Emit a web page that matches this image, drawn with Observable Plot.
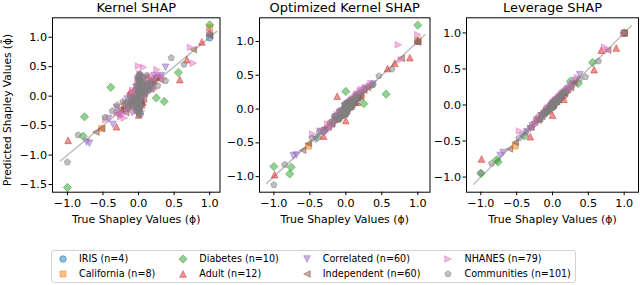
<!DOCTYPE html>
<html>
<head>
<meta charset="utf-8">
<script src="https://cdn.jsdelivr.net/npm/d3@7"></script>
<script src="https://cdn.jsdelivr.net/npm/@observablehq/plot@0.6"></script>
<style>
  html, body { margin: 0; padding: 0; background: #fff; }
  #wrap { position: relative; width: 640px; height: 285px; overflow: hidden; font-family: "DejaVu Sans", sans-serif; }
  .pnl { position: absolute; top: 0; }
  #legend { position: absolute; left: 51px; top: 250px; border: 1px solid #d3d3d3; border-radius: 3px;
    padding: 1px 4px 2px 5px; display: grid; grid-template-columns: repeat(4, auto); grid-template-rows: repeat(2, 13px);
    grid-auto-flow: column; column-gap: 22px; row-gap: 2px; font-size: 9.6px; color: #000; background: #fff; }
  .li { display: flex; align-items: center; white-space: nowrap; height: 13px; }
  .li svg { width: 12px; height: 12px; margin-right: 10px; flex: none; }
</style>
</head>
<body>
<div id="wrap"></div>
<script>
// ---------------- data ----------------
const seriesNames = ["IRIS (n=4)", "California (n=8)", "Diabetes (n=10)", "Adult (n=12)",
  "Correlated (n=60)", "Independent (n=60)", "NHANES (n=79)", "Communities (n=101)"];
const seriesColors = ["#1f77b4", "#ff7f0e", "#2ca02c", "#d62728", "#9467bd", "#8c564b", "#e377c2", "#7f7f7f"];
const panelTitles = ["Kernel SHAP", "Optimized Kernel SHAP", "Leverage SHAP"];
const xTickValues = [-1, -0.5, 0, 0.5, 1];
const yTickValues1 = [-1.5, -1, -0.5, 0, 0.5, 1];
const yTickValues2 = [-1, -0.5, 0, 0.5, 1];
const yTickValues3 = [-1, -0.5, 0, 0.5, 1];
const diagonal = [-1.1, 1.1];

const irisTrue   = [1.00, 0.18, 0.05, -0.10];
const irisKernel = [0.99, 0.22, 0.08, -0.14];
const irisOpt    = [1.00, 0.17, 0.04, -0.09];
const irisLev    = [1.00, 0.18, 0.05, -0.10];

const caliTrue   = [1.00, 0.17, 0.12, -0.52, -0.20, 0.05, -0.05, 0.22];
const caliKernel = [1.16, 0.27, 0.31, -0.55, -0.17, 0.12, 0.02, 0.25];
const caliOpt    = [1.02, 0.19, 0.10, -0.55, -0.22, 0.06, -0.03, 0.20];
const caliLev    = [1.00, 0.17, 0.11, -0.57, -0.19, 0.05, -0.05, 0.22];

const diabTrue   = [1.00, 0.56, 0.36, 0.25, 0.00, -0.39, -0.76, -0.78, -1.00, 0.04];
const diabKernel = [1.21, 0.40, -0.09, -0.03, 0.10, 0.15, -0.35, -0.68, -1.55, 0.02];
const diabOpt    = [1.24, 0.22, 0.36, 0.08, 0.26, -0.42, -0.86, -0.96, -0.85, 0.05];
const diabLev    = [1.00, 0.59, 0.30, 0.33, 0.02, -0.43, -0.79, -0.76, -0.95, 0.05];

const adultTrue   = [1.00, 0.89, 0.68, 0.58, 0.16, 0.00, -0.12, -0.31, -0.99, 0.01, -0.05, 0.06];
const adultKernel = [1.08, 0.92, 0.62, 0.28, 0.22, -0.32, 0.07, -0.52, -0.75, 0.36, 0.15, -0.10];
const adultOpt    = [1.01, 0.76, 0.68, 0.60, 0.10, -0.17, 0.19, -0.40, -0.97, 0.02, -0.05, 0.06];
const adultLev    = [1.00, 0.79, 0.76, 0.49, 0.08, -0.14, -0.08, -0.44, -0.75, 0.00, -0.06, 0.05];

const corrTrue   = [0.38, 0.32, 0.20, -0.31, -0.36, -0.69, -0.73, 0.10, -0.10, 0.05, -0.05, 0.15, -0.15, 0.00, 0.02, -0.02, 0.25, -0.25, 0.08, -0.08, 0.12, -0.20, 0.18, -0.12, 0.03, -0.03, 0.06, -0.06, 0.28, -0.42,
  0.00, 0.01, -0.01, 0.04, -0.04, 0.09, -0.09, 0.14, -0.16, 0.22, -0.28, 0.02];
const corrKernel = [0.49, 0.35, 0.22, -0.20, -0.48, -0.80, -0.78, 0.18, -0.15, 0.12, -0.10, 0.20, -0.22, 0.25, -0.05, 0.08, 0.30, -0.30, 0.02, -0.12, 0.18, -0.25, 0.26, -0.05, -0.15, 0.10, 0.15, -0.18, 0.32, -0.38,
  0.15, -0.20, 0.28, -0.10, 0.05, 0.30, -0.28, 0.10, -0.05, 0.35, -0.32, -0.25];
const corrOpt    = [0.37, 0.33, 0.18, -0.35, -0.33, -0.68, -0.69, 0.13, -0.14, 0.02, -0.08, 0.20, -0.12, 0.05, -0.03, 0.04, 0.27, -0.30, 0.12, -0.05, 0.10, -0.25, 0.22, -0.16, 0.06, -0.06, 0.02, -0.09, 0.30, -0.45,
  0.03, -0.04, 0.05, 0.08, -0.09, 0.05, -0.13, 0.18, -0.20, 0.25, -0.32, 0.00];
const corrLev    = [0.42, 0.34, 0.21, -0.33, -0.37, -0.66, -0.70, 0.11, -0.11, 0.06, -0.06, 0.16, -0.15, 0.01, 0.03, -0.03, 0.26, -0.27, 0.09, -0.07, 0.13, -0.21, 0.19, -0.12, 0.04, -0.04, 0.07, -0.05, 0.29, -0.43,
  0.01, 0.00, -0.02, 0.05, -0.05, 0.08, -0.10, 0.15, -0.15, 0.23, -0.29, 0.03];

const indTrue   = [1.00, 0.77, -0.60, -0.52, -0.20, 0.10, -0.10, 0.05, -0.05, 0.15, -0.15, 0.00, 0.02, 0.20, -0.25, 0.30, -0.30, 0.08, -0.08, 0.12,
  0.00, 0.01, -0.02, 0.04, -0.04, 0.07, -0.12, 0.17, -0.18, 0.25];
const indKernel = [1.03, 0.79, -0.61, -0.55, -0.20, 0.18, -0.15, 0.10, -0.02, 0.22, -0.18, 0.15, -0.12, 0.25, -0.22, 0.28, -0.30, 0.05, -0.10, 0.20,
  -0.25, 0.30, 0.10, -0.15, 0.20, -0.05, 0.05, 0.12, -0.28, 0.32];
const indOpt    = [0.99, 0.75, -0.61, -0.51, -0.22, 0.12, -0.13, 0.03, -0.07, 0.17, -0.12, 0.02, 0.04, 0.18, -0.27, 0.32, -0.28, 0.10, -0.06, 0.10,
  0.02, -0.03, 0.03, 0.07, -0.06, 0.04, -0.15, 0.20, -0.16, 0.28];
const indLev    = [1.00, 0.76, -0.61, -0.52, -0.21, 0.11, -0.09, 0.06, -0.04, 0.14, -0.16, 0.01, 0.02, 0.21, -0.24, 0.31, -0.31, 0.07, -0.09, 0.13,
  0.01, 0.00, -0.02, 0.05, -0.03, 0.08, -0.11, 0.16, -0.19, 0.24];

const nhanesTrue   = [1.00, 0.73, 0.77, 0.26, 0.07, 0.00, -0.20, -0.46, 0.15, -0.10, 0.05, -0.05, 0.10, 0.02, -0.02, 0.20, -0.15, 0.12, -0.08, 0.03, -0.30, 0.35, 0.22, -0.25,
  0.00, 0.01, 0.03, -0.03, 0.06, -0.06, 0.09, -0.12, 0.17, -0.18, 0.01, 0.04, -0.01, 0.13, -0.22, 0.28];
const nhanesKernel = [1.10, 0.83, 0.56, 0.45, 0.49, 0.51, -0.37, -0.40, 0.20, -0.05, 0.30, -0.18, 0.15, 0.38, -0.25, 0.28, -0.20, 0.05, 0.10, -0.30, -0.28, 0.30, 0.12, -0.35,
  0.22, -0.15, 0.32, -0.22, 0.18, 0.02, 0.25, -0.20, 0.35, -0.12, 0.10, -0.25, 0.28, 0.22, -0.30, 0.35];
const nhanesOpt    = [1.10, 0.95, 0.73, 0.30, 0.12, 0.05, -0.24, -0.37, 0.22, -0.13, 0.10, -0.02, 0.14, 0.08, -0.06, 0.27, -0.19, 0.16, -0.04, 0.00, -0.33, 0.38, 0.29, -0.22,
  0.04, -0.03, 0.08, -0.07, 0.02, -0.10, 0.15, -0.08, 0.22, -0.20, 0.06, 0.00, -0.04, 0.17, -0.26, 0.32];
const nhanesLev    = [1.00, 0.80, 0.76, 0.27, 0.08, 0.02, -0.22, -0.36, 0.17, -0.12, 0.07, -0.04, 0.12, 0.03, -0.01, 0.20, -0.16, 0.13, -0.07, 0.04, -0.32, 0.38, 0.21, -0.28,
  0.01, 0.00, 0.05, -0.02, 0.07, -0.05, 0.10, -0.13, 0.18, -0.17, 0.02, 0.05, -0.01, 0.15, -0.20, 0.27];

const commTrue   = [1.00, 0.64, 0.46, 0.38, 0.11, -0.22, -0.37, -0.47, -0.85, -1.00, 0.27, -0.30,
  0.00, 0.00, 0.01, 0.01, -0.01, -0.01, 0.00, 0.02, 0.00, 0.01, -0.01, 0.02, 0.00, 0.01, -0.02, 0.03, -0.03, 0.04, -0.04, 0.05,
  -0.05, 0.07, -0.07, 0.09, -0.09, 0.12, -0.12, 0.15, -0.15, 0.18, -0.18, 0.03, 0.06, -0.06, 0.02, -0.02, 0.08, 0.10, -0.10, 0.14,
  0.00, 0.01, 0.02, 0.00, 0.01, 0.03, -0.01, 0.02, 0.00, 0.01, 0.02, 0.03, 0.00, 0.01, -0.01, 0.02, 0.04, 0.00, 0.01, 0.02,
  -0.03, 0.05, -0.05, 0.06, -0.08, 0.10, -0.11, 0.13, -0.16, 0.20];
const commKernel = [1.05, 0.54, 0.65, 0.26, 0.35, -0.09, -0.25, -0.36, -0.66, -1.12, 0.18, -0.15,
  0.35, 0.28, 0.22, 0.15, 0.08, -0.05, -0.12, -0.20, -0.28, 0.30, 0.18, 0.12, 0.02, -0.08, -0.15, 0.05, -0.25, 0.25, -0.18, 0.10,
  0.00, 0.20, -0.10, 0.15, -0.05, 0.22, -0.15, 0.12, -0.20, 0.25, -0.12, -0.30, 0.32, -0.02, 0.38, -0.22, 0.05, 0.18, -0.08, 0.10,
  0.32, 0.26, 0.20, 0.14, 0.06, -0.02, -0.10, -0.18, -0.24, -0.32, 0.36, 0.10, -0.14, 0.28, -0.06, 0.16, 0.24, 0.04, -0.26, 0.12,
  -0.20, 0.08, -0.12, 0.14, -0.16, 0.06, -0.04, 0.20, -0.10, 0.15];
const commOpt    = [1.00, 0.59, 0.49, 0.36, 0.14, -0.20, -0.34, -0.43, -0.82, -1.12, 0.30, -0.33,
  0.05, -0.04, 0.06, -0.03, 0.03, -0.06, 0.02, 0.08, -0.05, 0.09, -0.07, 0.01, 0.04, -0.02, -0.08, 0.10, -0.09, 0.02, -0.01, 0.12,
  -0.10, 0.03, -0.12, 0.14, -0.04, 0.10, -0.16, 0.20, -0.10, 0.15, -0.22, 0.07, 0.02, -0.10, -0.04, 0.03, 0.12, 0.05, -0.14, 0.18,
  0.04, -0.06, 0.08, -0.02, 0.05, 0.00, -0.04, 0.06, -0.08, 0.03, 0.09, -0.01, 0.02, -0.05, 0.07, 0.01, 0.10, -0.07, 0.04, -0.03,
  -0.06, 0.02, -0.09, 0.11, -0.03, 0.08, -0.15, 0.17, -0.12, 0.24];
const commLev    = [1.00, 0.61, 0.39, 0.36, 0.12, -0.21, -0.38, -0.46, -0.81, -0.94, 0.26, -0.31,
  0.02, -0.02, 0.03, -0.01, 0.01, -0.03, 0.01, 0.04, -0.02, 0.03, -0.04, 0.00, 0.02, 0.00, -0.04, 0.05, -0.05, 0.03, -0.02, 0.07,
  -0.06, 0.05, -0.09, 0.11, -0.07, 0.13, -0.14, 0.17, -0.13, 0.19, -0.20, 0.04, 0.04, -0.08, 0.01, -0.01, 0.10, 0.08, -0.12, 0.16,
  0.02, -0.03, 0.04, -0.01, 0.03, 0.02, -0.02, 0.04, -0.03, 0.01, 0.05, 0.01, 0.02, -0.01, 0.02, 0.03, 0.06, -0.03, 0.02, 0.00,
  -0.04, 0.06, -0.07, 0.07, -0.09, 0.11, -0.10, 0.14, -0.17, 0.19];

// ---------------- marker shapes (matplotlib-like) ----------------
function half(size) { return Math.sqrt(size / Math.PI); }
function poly(ctx, pts) { pts.forEach(([x, y], i) => i ? ctx.lineTo(x, y) : ctx.moveTo(x, y)); ctx.closePath(); }
const mCircle = { draw(ctx, size) { const h = half(size); ctx.moveTo(h, 0); ctx.arc(0, 0, h, 0, 2 * Math.PI); } };
const mSquare = { draw(ctx, size) { const h = half(size) * 0.9; poly(ctx, [[-h, -h], [h, -h], [h, h], [-h, h]]); } };
const mDiamond = { draw(ctx, size) { const h = half(size) * 1.25; poly(ctx, [[0, -h], [h, 0], [0, h], [-h, 0]]); } };
function mTri(rot) {
  return { draw(ctx, size) {
    const h = half(size);
    const c = Math.cos(rot), s = Math.sin(rot);
    poly(ctx, [[0, -h], [-h, h], [h, h]].map(([x, y]) => [x * c - y * s, x * s + y * c]));
  } };
}
const mPentagon = { draw(ctx, size) {
  const h = half(size);
  const pts = [];
  for (let i = 0; i < 5; i++) { const a = -Math.PI / 2 + i * 2 * Math.PI / 5; pts.push([h * Math.cos(a), h * Math.sin(a)]); }
  poly(ctx, pts);
} };
const seriesSymbols = [mCircle, mSquare, mDiamond, mTri(0), mTri(Math.PI), mTri(-Math.PI / 2), mTri(Math.PI / 2), mPentagon];

const series = [
  { t: irisTrue, v: [irisKernel, irisOpt, irisLev] },
  { t: caliTrue, v: [caliKernel, caliOpt, caliLev] },
  { t: diabTrue, v: [diabKernel, diabOpt, diabLev] },
  { t: adultTrue, v: [adultKernel, adultOpt, adultLev] },
  { t: corrTrue, v: [corrKernel, corrOpt, corrLev] },
  { t: indTrue, v: [indKernel, indOpt, indLev] },
  { t: nhanesTrue, v: [nhanesKernel, nhanesOpt, nhanesLev] },
  { t: commTrue, v: [commKernel, commOpt, commLev] }
].map((s, i) => ({ ...s, name: seriesNames[i], color: seriesColors[i], symbol: seriesSymbols[i] }));

const panels = [
  { left: 0,   width: 222, ml: 52, mr: 2.5, xd: [-1.21, 1.145], yd: [-1.63, 1.33], yt: yTickValues1, ylabel: true },
  { left: 222, width: 210, ml: 37, mr: 2.5, xd: [-1.20, 1.17],  yd: [-1.23, 1.35], yt: yTickValues2, ylabel: false },
  { left: 432, width: 208, ml: 34, mr: 2,   xd: [-1.20, 1.20],  yd: [-1.21, 1.21], yt: yTickValues3, ylabel: false }
];

const wrap = document.getElementById("wrap");
const FONT = "DejaVu Sans";
const xLabel = "True Shapley Values (\u03d5)";
const yLabel = "Predicted Shapley Values (\u03d5\u0303)";

panels.forEach((p, pi) => {
  const marks = [
    Plot.line(diagonal, { x: d => d, y: d => d, stroke: "#bfbfbf", strokeWidth: 1.5 })
  ];
  for (const s of series) {
    const rows = s.t.map((t, i) => ({ t, p: s.v[pi][i] }));
    marks.push(Plot.dot(rows, { x: "t", y: "p", r: 3.3, symbol: s.symbol, fill: s.color, stroke: s.color,
      fillOpacity: 0.5, strokeOpacity: 0.5, strokeWidth: 1 }));
  }
  marks.push(Plot.frame({ stroke: "#000", strokeWidth: 1 }));
  marks.push(Plot.axisX({ ticks: xTickValues, tickFormat: ".1f", tickSize: 3.5, tickPadding: 3, label: null, fontSize: 11.2 }));
  marks.push(Plot.axisY({ ticks: p.yt, tickFormat: ".1f", tickSize: 3.5, tickPadding: 2, label: null, fontSize: 11.2 }));
  marks.push(Plot.text([xLabel], { text: d => d, frameAnchor: "bottom", lineAnchor: "bottom", dy: 30.5, fontSize: 10.9 }));
  marks.push(Plot.text([panelTitles[pi]], { text: d => d, frameAnchor: "top", lineAnchor: "bottom", dy: -5.3, fontSize: 13 }));
  if (p.ylabel) marks.push(Plot.text([yLabel], { text: d => d, frameAnchor: "left", textAnchor: "middle", lineAnchor: "middle",
    dx: -45, dy: 5, rotate: -90, fontSize: 10.6 }));
  const svg = Plot.plot({
    width: p.width, height: 245,
    marginLeft: p.ml, marginRight: p.mr, marginTop: 17.3, marginBottom: 53.3,
    x: { domain: p.xd }, y: { domain: p.yd },
    style: { fontFamily: FONT, color: "#000", background: "transparent", overflow: "visible" },
    marks
  });
  svg.classList.add("pnl");
  svg.style.left = p.left + "px";
  wrap.appendChild(svg);
});

// legend
const legend = document.createElement("div");
legend.id = "legend";
series.forEach(s => {
  const item = document.createElement("div");
  item.className = "li";
  const path = d3.symbol(s.symbol, Math.PI * 3.3 * 3.3)();
  item.innerHTML = `<svg viewBox="-6 -6 12 12"><path d="${path}" fill="${s.color}" stroke="${s.color}" fill-opacity="0.5" stroke-opacity="0.5"/></svg><span>${s.name}</span>`;
  legend.appendChild(item);
});
wrap.appendChild(legend);
</script>
</body>
</html>
